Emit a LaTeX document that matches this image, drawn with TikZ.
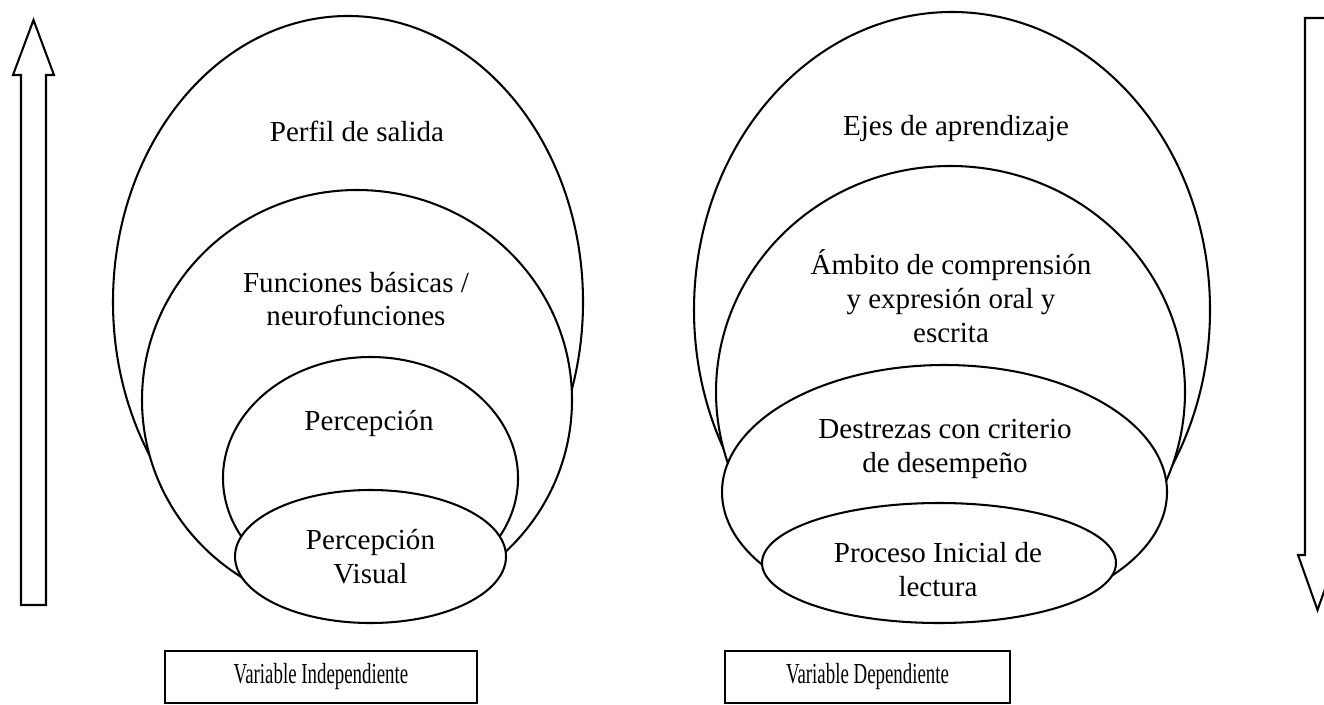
\documentclass[tikz,border=0pt]{standalone}
\usepackage{graphicx}
\usepackage{fontspec}
\setmainfont{Liberation Serif}
\begin{document}
\begin{tikzpicture}[x=0.4132pt, y=-0.4132pt, line width=0.85pt,
  oval/.style={draw=black, fill=white},
  lbl/.style={align=center, inner sep=0pt, font=\fontsize{12}{14}\selectfont},
  blockarrow/.style={draw=black, fill=white, line join=miter},
  varbox/.style={draw=black, fill=white, inner sep=0pt, font=\fontsize{12}{14}\selectfont}]
\clip (0,0) rectangle (1324,705);
\fill[white] (0,0) rectangle (1324,705);

% left arrow (upwards)
\filldraw[blockarrow] (21,605) -- (21,75) -- (13,75) -- (33.5,20) -- (54,75) -- (46,75) -- (46,605) -- cycle;
% right arrow (downwards)
\filldraw[blockarrow] (1305,18) -- (1305,555) -- (1298,555) -- (1317.5,610) -- (1337,555) -- (1330,555) -- (1330,18) -- cycle;

% left group
\filldraw[oval] (348,302) ellipse [x radius=235, y radius=286];
\filldraw[oval] (357,400) ellipse [x radius=215, y radius=210];
\filldraw[oval] (370.5,478) ellipse [x radius=147.5, y radius=121];
\filldraw[oval] (370.5,556.5) ellipse [x radius=135.5, y radius=66.5];

\node[lbl] (perfil) at (357,131) {Perfil de salida};
\node[lbl] (func) at (356,299) {Funciones básicas /\\neurofunciones};
\node[lbl] (perc) at (369,423) {Percepción};
\node[lbl] (percv) at (370.5,557) {Percepción\\Visual};

% right group
\filldraw[oval] (952,310) ellipse [x radius=258, y radius=298];
\filldraw[oval] (950.5,392) ellipse [x radius=234.5, y radius=226];
\filldraw[oval] (944.5,492) ellipse [x radius=222.5, y radius=127];
\filldraw[oval] (939,563) ellipse [x radius=177, y radius=60];

\node[lbl] (ejes) at (956,129) {Ejes de aprendizaje};
\node[lbl] (ambito) at (951,296) {Ámbito de comprensión\\y expresión oral y\\escrita};
\node[lbl] (destrezas) at (945,449) {Destrezas con criterio\\de desempeño};
\node[lbl] (proceso) at (938,570) {Proceso Inicial de\\lectura};

% bottom boxes
\node[varbox, minimum width=128.9pt, minimum height=21.5pt] (vi) at (321,677) {\scalebox{0.65}[1]{Variable Independiente}};
\node[varbox, minimum width=117.8pt, minimum height=21.5pt] (vd) at (867.5,677) {\scalebox{0.65}[1]{Variable Dependiente}};
\end{tikzpicture}
\end{document}
